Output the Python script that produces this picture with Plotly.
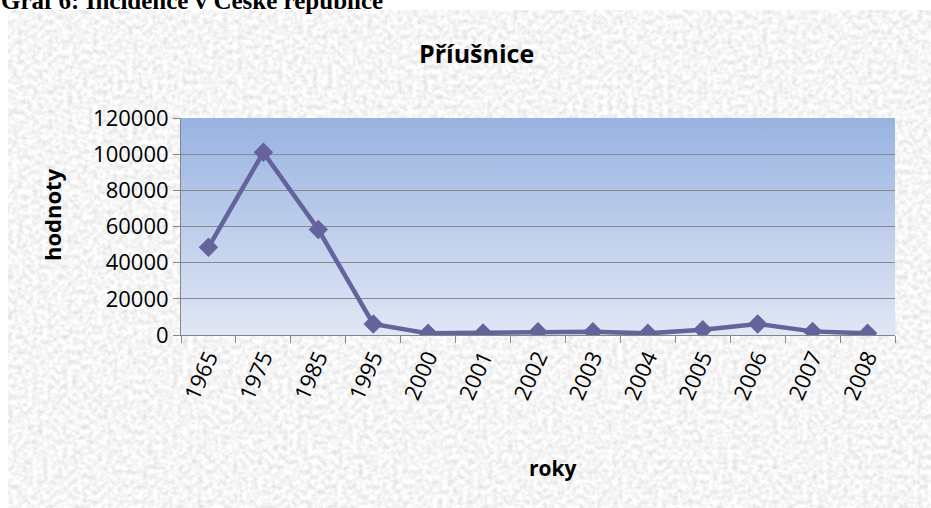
import base64
import plotly.graph_objects as go

years = ["1965", "1975", "1985", "1995", "2000", "2001", "2002", "2003",
         "2004", "2005", "2006", "2007", "2008"]
values = [48500, 101000, 58300, 6100, 900, 1100, 1800, 1800, 900, 2900, 6100, 2000, 900]
y_ticks = [0, 20000, 40000, 60000, 80000, 100000, 120000]

W, H = 931, 508
L, R, T, B = 181, 36, 118, 173
PW, PH = W - L - R, H - T - B


def px_x(p):
    return (p - L) / PW


def px_y(p):
    return (H - B - p) / PH


def data_uri(svg):
    return "data:image/svg+xml;base64," + base64.b64encode(svg.encode()).decode()


texture_svg = (
    "<svg xmlns='http://www.w3.org/2000/svg' width='923' height='498' viewBox='0 0 923 498'>"
    "<filter id='n' x='0' y='0' width='100%' height='100%'>"
    "<feTurbulence type='fractalNoise' baseFrequency='0.2' numOctaves='3' seed='11'/>"
    "<feColorMatrix type='matrix' values='0.45 0 0 0 0.69  0.45 0 0 0 0.69  0.45 0 0 0 0.69  0 0 0 0 1'/>"
    "</filter>"
    "<rect width='923' height='498' fill='#ebebeb'/>"
    "<rect width='923' height='498' filter='url(#n)'/>"
    "</svg>"
)

gradient_svg = (
    "<svg xmlns='http://www.w3.org/2000/svg' width='100' height='100' viewBox='0 0 100 100' preserveAspectRatio='none'>"
    "<defs><linearGradient id='g' x1='0' y1='0' x2='0' y2='1'>"
    "<stop offset='0' stop-color='#98b3e1'/>"
    "<stop offset='1' stop-color='#e1e7f5'/>"
    "</linearGradient></defs>"
    "<rect width='100' height='100' fill='url(#g)'/>"
    "</svg>"
)

line_color = "#64639c"
font_family = "'Open Sans', sans-serif"

fig = go.Figure()
fig.add_trace(go.Scatter(
    x=years, y=values, mode="lines+markers",
    line=dict(color=line_color, width=4.5),
    marker=dict(symbol="diamond", size=15, color=line_color),
    showlegend=False, hoverinfo="x+y",
))

fig.update_layout(
    width=W, height=H,
    margin=dict(l=L, r=R, t=T, b=B, pad=0),
    paper_bgcolor="white",
    plot_bgcolor="rgba(0,0,0,0)",
    font=dict(family=font_family, size=22, color="black"),
    images=[
        dict(source=data_uri(texture_svg), xref="paper", yref="paper",
             x=px_x(8), y=px_y(10), sizex=(W - 8) / PW, sizey=(H - 10) / PH,
             xanchor="left", yanchor="top", sizing="stretch", layer="below"),
        dict(source=data_uri(gradient_svg), xref="paper", yref="paper",
             x=0, y=1, sizex=1, sizey=1,
             xanchor="left", yanchor="top", sizing="stretch", layer="below"),
    ],
    xaxis=dict(
        type="category", categoryorder="array", categoryarray=years,
        showgrid=False, showline=True, linecolor="#868686", linewidth=1,
        ticks="outside", tickson="boundaries", ticklen=7, tickcolor="#868686",
        tickangle=-66, tickfont=dict(size=22, family=font_family),
        range=[-0.5, len(years) - 0.5],
    ),
    yaxis=dict(
        range=[0, 120000], tickvals=y_ticks, ticktext=[str(v) for v in y_ticks],
        showgrid=True, gridcolor="#888888", gridwidth=1,
        showline=True, linecolor="#868686", linewidth=1,
        ticks="outside", ticklen=7, tickcolor="#868686",
        zeroline=False, tickfont=dict(size=22, family=font_family),
    ),
    annotations=[
        dict(text="<b>Příušnice</b>", xref="paper", yref="paper",
             x=px_x(476), y=px_y(53), xanchor="center", yanchor="middle",
             showarrow=False, font=dict(size=25, family=font_family)),
        dict(text="<b>hodnoty</b>", xref="paper", yref="paper",
             x=px_x(52), y=px_y(215), xanchor="center", yanchor="middle",
             textangle=-90, showarrow=False, font=dict(size=22, family=font_family)),
        dict(text="<b>roky</b>", xref="paper", yref="paper",
             x=px_x(553), y=px_y(468), xanchor="center", yanchor="middle",
             showarrow=False, font=dict(size=21, family=font_family)),
        dict(text="<b>Graf 6: Incidence v České republice</b>", xref="paper", yref="paper",
             x=px_x(-1), y=px_y(16.5), xanchor="left", yanchor="bottom",
             showarrow=False, font=dict(size=25, family="'Liberation Serif', serif")),
    ],
)

fig.write_html("out.html", config={"displayModeBar": False},
               post_script="document.body.style.margin='0px';")
